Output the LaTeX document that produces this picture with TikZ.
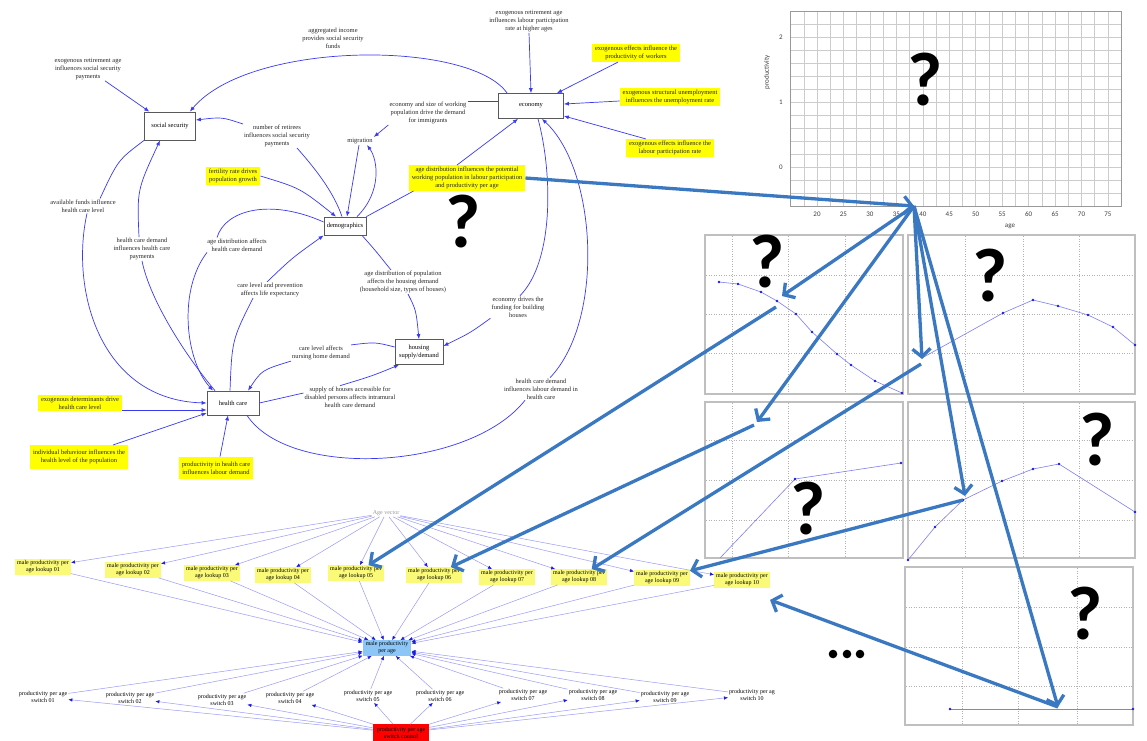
\documentclass[tikz,border=0pt]{standalone}
\usepackage{fontspec}
\setmainfont{Liberation Serif}
\newfontfamily\qfont{Carlito}
\usetikzlibrary{arrows.meta}
\definecolor{cblue}{HTML}{3A3AF0}
\definecolor{lblue}{HTML}{9A9AF5}
\definecolor{dblue}{HTML}{1A1AE6}
\definecolor{bigblue}{HTML}{3B78C2}
\definecolor{ylw}{HTML}{FFFF00}
\definecolor{lylw}{HTML}{FAFA78}
\definecolor{mpblue}{HTML}{8CC6F7}
\definecolor{plotline}{HTML}{7F7FF0}
\tikzset{
 sbox/.style={draw=black!65, line width=0.8pt, fill=white, font=\fontsize{6.5}{7.8}\selectfont, align=center, inner sep=1pt},
 lbl/.style={font=\fontsize{6.5}{7.8}\selectfont, align=center, text=black!85, inner sep=1pt},
 ybox/.style={lbl, fill=ylw, inner xsep=3pt, inner ysep=2pt},
 cl/.style={draw=cblue, line width=0.7pt},
 ca/.style={cl, -{Latex[length=5pt,width=4pt]}},
 bl/.style={font=\fontsize{6}{7}\selectfont, align=center, inner sep=1pt},
 lkbox/.style={bl, fill=lylw, inner xsep=2pt, inner ysep=1.5pt},
 mpbox/.style={bl, fill=mpblue, inner xsep=3pt, inner ysep=1.5pt},
 rcbox/.style={bl, fill=red, inner xsep=4pt, inner ysep=3pt},
 ta/.style={draw=lblue, line width=0.5pt, -{Latex[length=4pt,width=3.5pt,color=dblue]}},
 bigarr/.style={draw=bigblue, line width=3.3pt, -{Straight Barb[length=8pt,width=18pt]}},
 qm/.style={font=\qfont\bfseries\fontsize{76}{76}\selectfont, inner sep=0pt},
 pframe/.style={draw=black!25, line width=1.2pt},
 pgrid/.style={draw=black!30, line width=0.5pt, dotted},
 pline/.style={draw=plotline, line width=0.6pt},
 pdot/.style={fill=dblue},
 cgrid/.style={draw=black!20, line width=0.5pt},
 cframe/.style={draw=black!40, line width=0.6pt},
 tklbl/.style={font=\qfont\fontsize{7}{8}\selectfont, text=black!75, inner sep=0.5pt},
}
\begin{document}
\begin{tikzpicture}[x=1pt,y=-1pt]
\useasboundingbox (0,0) rectangle (1147,740);
\fill[white] (0,0) rectangle (1147,740);

% ================= top-right chart
\foreach \i in {0,...,25} \draw[cgrid] ({790.55+13.225*\i},11) -- ({790.55+13.225*\i},206);
\foreach \i in {-3,...,12} \draw[cgrid] (790.55,{167-13*\i}) -- (1121.2,{167-13*\i});
\draw[cframe] (790.55,11) rectangle (1121.2,206);
\foreach \a in {20,25,...,75} \node[tklbl] at ({817+(\a-20)*5.29},214) {\a};
\node[tklbl] at (781,37) {2};
\node[tklbl] at (781,102) {1};
\node[tklbl] at (781,167) {0};
\node[tklbl, rotate=90] at (767,72) {productivity};
\node[tklbl] at (1010,226) {age};
\node[qm] (q1) at (925,80) {?};

% ================= small panels
\draw[pframe] (705,235) rectangle (903,394);
\draw[pframe] (908,235) rectangle (1135,394);
\draw[pframe] (705,402) rectangle (903,558);
\draw[pframe] (908,402) rectangle (1135,558);
\draw[pframe] (905,567) rectangle (1133,725);
\foreach \x in {732,788,845} {\draw[pgrid] (\x,236) -- (\x,393); \draw[pgrid] (\x,403) -- (\x,557);}
\foreach \x in {965,1023,1079} {\draw[pgrid] (\x,236) -- (\x,393); \draw[pgrid] (\x,403) -- (\x,557);}
\foreach \x in {962,1018,1077} \draw[pgrid] (\x,568) -- (\x,724);
\foreach \y in {275,314,353} {\draw[pgrid] (706,\y) -- (902,\y); \draw[pgrid] (909,\y) -- (1134,\y);}
\foreach \y in {440,480,520} {\draw[pgrid] (706,\y) -- (902,\y); \draw[pgrid] (909,\y) -- (1134,\y);}
\foreach \y in {607,647,686} \draw[pgrid] (906,\y) -- (1132,\y);
% curves
\draw[pline] plot coordinates {(719,282) (738,284) (761,292) (777,301) (796,314) (812,332) (837,354) (851,365) (875,381) (902,393)};
\foreach \p in {(719,282),(738,284),(761,292),(777,301),(796,314),(812,332),(837,354),(851,365),(875,381),(902,393)} \fill[pdot] \p circle (1.3);
\draw[pline] plot coordinates {(922,358) (1003,313) (1033,300) (1058,306) (1088,315) (1113,327) (1135,345)};
\foreach \p in {(1003,313),(1033,300),(1058,306),(1088,315),(1113,327),(1135,345)} \fill[pdot] \p circle (1.3);
\draw[pline] plot coordinates {(720,558) (795,479) (901,463)};
\foreach \p in {(795,479),(901,463)} \fill[pdot] \p circle (1.3);
\draw[pline] plot coordinates {(908,560) (935,527) (963,500) (1002,481) (1033,469) (1059,464) (1135,512)};
\foreach \p in {(908,560),(935,527),(963,500),(1002,481),(1033,469),(1059,464),(1135,512)} \fill[pdot] \p circle (1.3);
\draw[pline] (950,709) -- (1133,709);
\foreach \p in {(950,709),(1133,709)} \fill[pdot] \p circle (1.3);
\node[qm] (q2) at (767,262) {?};
\node[qm] (q3) at (990,276) {?};
\node[qm] (q4) at (808,509) {?};
\node[qm] (q5) at (1097,440) {?};
\node[qm] (q6) at (1085,614) {?};
\foreach \x in {833,847,860} \fill (\x,654) circle (4.3);

% ================= top causal diagram
\node[sbox, minimum width=51pt, minimum height=28pt] (ss) at (170,126) {social security};
\node[sbox, minimum width=65pt, minimum height=25pt] (eco) at (531,106) {economy};
\node[sbox, minimum width=42pt, minimum height=18pt] (dem) at (345,226) {demographics};
\node[sbox, minimum width=48pt, minimum height=25pt] (hou) at (419,352) {housing\\supply/demand};
\node[sbox, minimum width=52pt, minimum height=24pt] (hc) at (233,403) {health care};

\node[lbl] (L1) at (333,38) {aggregated income\\provides social security\\funds};
\node[lbl] (L2) at (88,69) {exogenous retirement age\\influences social security\\payments};
\node[lbl] (L3) at (277,136) {number of retirees\\influences social security\\payments};
\node[lbl] (mig) at (360,141) {migration};
\node[ybox] (Y1) at (233,176) {fertility rate drives\\population growth};
\node[lbl] (L5) at (83,206) {available funds influence\\health care level};
\node[lbl] (L6) at (142,249) {health care demand\\influences health care\\payments};
\node[lbl] (L7) at (237,245) {age distribution affects\\health care demand};
\node[lbl] (L8) at (270,290) {care level and prevention\\affects life expectancy};
\node[lbl] (L9) at (403,282) {age distribution of population\\affects the housing demand\\(household size, types of houses)};
\node[lbl] (L10) at (518,307) {economy drives the\\funding for building\\houses};
\node[lbl] (L11) at (321,353) {care level affects\\nursing home demand};
\node[lbl] (L12) at (350,397) {supply of houses accessible for\\disabled persons affects intramural\\health care demand};
\node[lbl] (L13) at (541,389) {health care demand\\influences labour demand in\\health care};
\node[lbl] (L14) at (529,21) {exogenous retirement age\\influences labour participation\\rate at higher ages};
\node[lbl] (L15) at (428,113) {economy and size of working\\population drive the demand\\for immigrants};
\node[ybox] (Y2) at (636,53) {exogenous effects influence the\\productivity of workers};
\node[ybox] (Y3) at (670,97) {exogenous structural unemployment\\influences the unemployment rate};
\node[ybox] (Y4) at (670,148) {exogenous effects influence the\\labour participation rate};
\node[ybox] (Y5) at (467,178) {age distribution influences the potential\\working population in labour participation\\and productivity per age};
\node[ybox] (Y6) at (80,403) {exogenous determinants drive\\health care level};
\node[ybox, inner ysep=5pt] (Y7) at (79,457) {individual behaviour influences the\\health level of the population};
\node[ybox, inner ysep=5pt] (Y8) at (216,468) {productivity in health care\\influences labour demand};
\node[qm] (q0) at (463,222) {?};

\draw[ca] (L2) -- (ss);
\draw[ca] ([xshift=9pt]eco.north west) .. controls (470,40) and (250,40) .. ([xshift=-6pt]ss.north east);
\draw[cl] ([xshift=-3pt]dem.north) .. controls (333,190) and (312,165) .. ([xshift=20pt]L3.south);
\draw[ca] (L3.north west) .. controls (222,117) .. ([yshift=6pt]ss.east);
\draw[ca] (Y1.east) .. controls (300,188) .. ([xshift=-9pt]dem.north);
\draw[ca] ([xshift=-1pt]mig.south) -- ([xshift=2pt]dem.north);
\draw[ca] ([xshift=12pt]dem.north) .. controls (382,192) and (378,160) .. ([xshift=7pt]mig.south);
\path ([yshift=5pt]eco.west) coordinate (e1);
\draw[cl] (e1) -- (e1 -| L15.east);
\draw[ca] (L15.south west) -- (mig.north east);
\draw[cl] (dem.north east) -- ([xshift=5pt]Y5.south west);
\draw[ca] ([xshift=-10pt]Y5.north) -- ([xshift=-13pt]eco.south);
\draw[cl] ([xshift=7pt]eco.south) .. controls (552,170) and (555,260) .. ([xshift=2pt]L10.north);
\draw[ca] (L10.south west) .. controls (470,333) .. ([yshift=6pt]hou.east);
\draw[cl] ([xshift=14pt]hc.south) .. controls (290,480) and (470,470) .. ([xshift=-16pt]L13.south);
\draw[ca] ([xshift=9pt]L13.north) .. controls (605,320) and (597,170) .. ([xshift=11pt]eco.south);
\draw[cl] ([xshift=17pt]dem.south) .. controls (375,250) .. ([xshift=-12pt]L9.north);
\draw[ca] ([xshift=5pt]L9.south) .. controls (416,310) .. (hou.north);
\draw[cl] ([yshift=5pt]hou.west) .. controls (375,342) .. (L11.north east);
\draw[ca] (L11.south west) .. controls (262,370) .. ([xshift=15pt]hc.north);
\draw[cl] (hc.east) -- ([yshift=4pt]L12.west);
\draw[ca] ([xshift=-10pt]L12.north) .. controls (372,376) .. ([xshift=-20pt]hou.south);
\draw[cl] (ss.south west) .. controls (118,160) .. ([xshift=17pt]L5.north);
\draw[ca] ([xshift=4pt]L5.south) .. controls (70,290) and (100,400) .. (hc.west);
\draw[cl] ([xshift=-18pt]hc.north) .. controls (185,355) and (150,300) .. (L6.south);
\draw[ca] ([xshift=-3pt]L6.north) .. controls (137,190) .. ([xshift=-10pt]ss.south);
\draw[cl] ([yshift=4pt]dem.west) .. controls (270,198) and (225,210) .. ([xshift=-20pt]L7.north);
\draw[ca] ([xshift=-30pt]L7.south) .. controls (178,290) and (185,360) .. ([xshift=-20pt]hc.north);
\draw[cl] ([xshift=-3pt]hc.north) .. controls (232,340) .. ([xshift=-17pt]L8.south);
\draw[ca] ([xshift=-3pt]L8.north) .. controls (292,258) .. (dem.south west);
\draw[ca] ([xshift=4pt]Y8.north) -- ([xshift=-5pt]hc.south);
\draw[ca] ([yshift=-7pt]Y6.east) -- ([yshift=-7pt]hc.west);
\draw[ca] ([xshift=-15pt]Y7.north east) -- ([yshift=-10pt]hc.west);
\draw[ca] (L14.south) -- (eco.north);
\draw[ca] ([xshift=-18pt]Y2.south) -- ([xshift=26pt]eco.north);
\draw[ca] ([yshift=-4pt]Y3.west) -- ([yshift=2pt]eco.east);
\draw[ca] ([xshift=20pt]Y4.north west) -- ([yshift=-10pt]eco.east);

% ================= bottom model
\node[bl, text=black!40] (av) at (386,513) {Age vector};
\foreach \i/\x/\y/\n in {1/43/567/01, 2/133/570/02, 3/212/573/03, 4/283/575/04, 5/356/573/05, 6/434/575/06, 7/507/577/07, 8/579/577/08, 9/662/578/09, 10/742/580/10}
  \node[lkbox] (lk\i) at (\x,\y) {male productivity per\\age lookup \n};
\foreach \i/\x/\y/\n in {1/43/697/01, 2/130/698/02, 3/222/700/03, 4/290/698/04, 5/368/696/05, 6/440/696/06, 7/523/695/07, 8/593/695/08, 9/665/697/09}
  \node[bl] (sw\i) at (\x,\y) {productivity per age\\switch \n};
\node[bl] (sw10) at (752,695) {productivity per ag\\switch 10};
\node[mpbox] (mp) at (387,648) {male productivity\\per age};
\node[rcbox] (rc) at (401,733) {productivity per age\\switch control};
\foreach \i in {1,...,10} {
  \draw[ta] (av) -- (lk\i);
  \draw[ta] (lk\i) -- (mp);
  \draw[ta] (sw\i) -- (mp);
  \draw[ta] (rc) -- (sw\i);
}

% ================= big arrows
\coordinate (hub) at (914,206);
\coordinate (p1) at (782,296);
\coordinate (p2) at (922,359);
\coordinate (p3) at (757,422);
\coordinate (p4) at (965,496);
\coordinate (p5) at (1058,707);
\coordinate (s1) at (776,307);
\coordinate (s2) at (921,364);
\coordinate (s3) at (754,425);
\coordinate (s4) at (963,500);
\draw[bigarr] (Y5.east) -- (hub);
\draw[bigarr] (hub) -- (p1);
\draw[bigarr] (hub) -- (p2);
\draw[bigarr] (hub) -- (p3);
\draw[bigarr] (hub) -- (p4);
\draw[bigarr] (hub) -- (p5);
\draw[bigarr] (s1) -- (lk5);
\draw[bigarr] (s2) -- (lk8);
\draw[bigarr] (s3) -- (lk6);
\draw[bigarr] (s4) -- (lk9);
\draw[bigarr] (p5) -- ([yshift=-12pt]lk10.south east);
\end{tikzpicture}
\end{document}
